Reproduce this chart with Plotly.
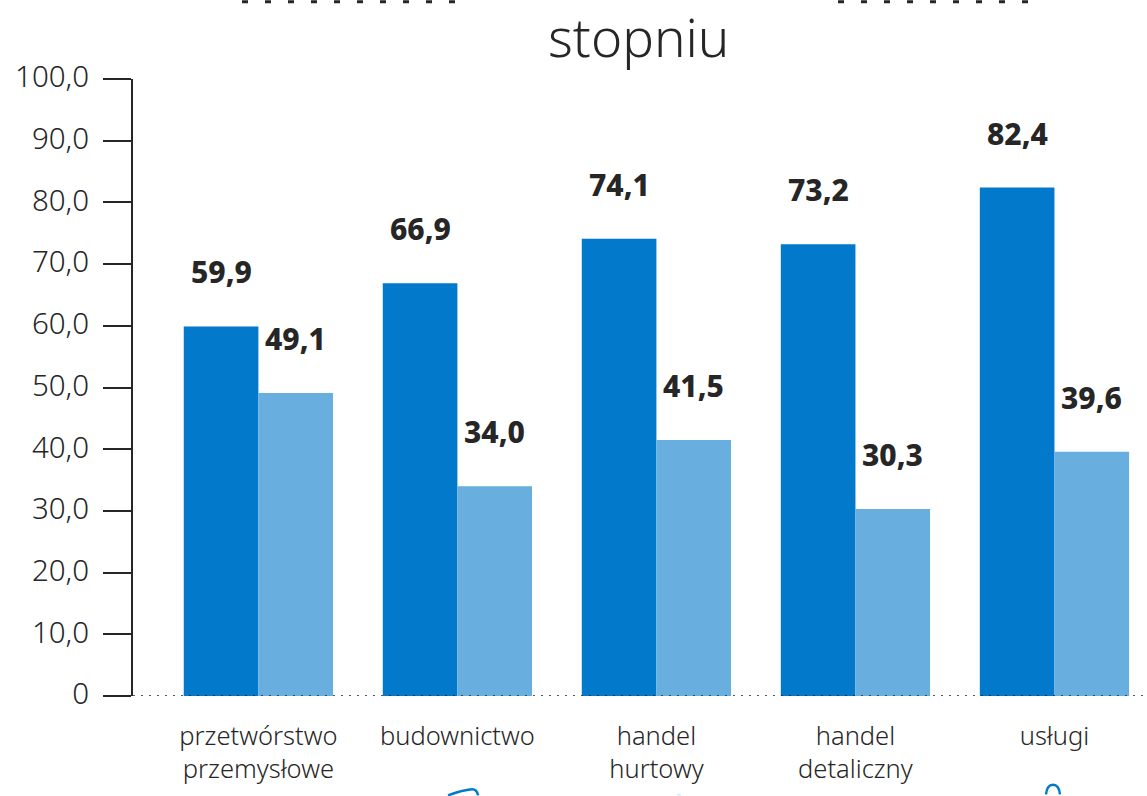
import plotly.graph_objects as go

categories = ["przetwórstwo<br>przemysłowe", "budownictwo", "handel<br>hurtowy", "handel<br>detaliczny", "usługi"]
dark_values = [59.9, 66.9, 74.1, 73.2, 82.4]
light_values = [49.1, 34.0, 41.5, 30.3, 39.6]
y_tick_values = [0, 10, 20, 30, 40, 50, 60, 70, 80, 90, 100]
y_tick_labels = ["0", "10,0", "20,0", "30,0", "40,0", "50,0", "60,0", "70,0", "80,0", "90,0", "100,0"]

W, H = 1147, 796
L, T, B = 133, 78.5, 696.5
INK = "#262626"
BLUE = "#0279ca"
FONT = "Noto Sans"

def px(x):
    return (x - L) / (W - L)

def py(y):
    return (B - y) / (B - T)

fig = go.Figure()
fig.add_bar(x=categories, y=dark_values, marker=dict(color=BLUE, line_width=0), showlegend=False)
fig.add_bar(x=categories, y=light_values, marker=dict(color="#68afe0", line_width=0), showlegend=False)

annotations = []
for cat, d, l in zip(categories, dark_values, light_values):
    for v, shift in ((d, -36.5), (l, 37)):
        annotations.append(dict(x=cat, y=v, xref="x", yref="y", text=f"{v:.1f}".replace(".", ","),
                                showarrow=False, xshift=shift, yshift=54.5,
                                font=dict(family=FONT, size=30, color=INK, weight=800)))
annotations.append(dict(x=px(638), y=py(36), xref="paper", yref="paper", text="stopniu", showarrow=False,
                        xanchor="center", yanchor="middle",
                        font=dict(family=FONT, size=53, color=INK, weight=300)))

def paper_line(x0, x1, ypx, **line):
    return dict(type="line", xref="paper", yref="paper", x0=px(x0), x1=px(x1),
                y0=py(ypx), y1=py(ypx), line=line)

def paper_curve(points, color, width):
    (a, b), (c, d), (e, f) = points
    path = f"M {px(a)} {py(b)} Q {px(c)} {py(d)} {px(e)} {py(f)}"
    return dict(type="path", xref="paper", yref="paper", path=path, line=dict(color=color, width=width))

shapes = [
    dict(type="line", xref="x domain", yref="y", x0=0, x1=1, y0=0, y1=0, layer="above",
         line=dict(color=INK, width=1.5, dash="2px 6px")),
    paper_line(242, 456, 1, color=INK, width=3, dash="6px 17px"),
    paper_line(838, 1030, 1, color=INK, width=3, dash="6px 17px"),
    paper_curve([(448, 796), (462, 791), (472, 790)], BLUE, 2.5),
    paper_curve([(472, 790), (477, 790), (478, 796)], BLUE, 2.5),
    paper_curve([(1046, 795), (1047, 785.5), (1053, 785.5)], BLUE, 2.5),
    paper_curve([(1053, 785.5), (1059, 785.5), (1060, 795)], BLUE, 2.5),
    paper_line(677, 681, 795.5, color="#c5dff2", width=1),
]

fig.update_layout(
    width=W, height=H, autosize=False,
    margin=dict(l=L, r=0, t=T, b=H - B),
    paper_bgcolor="white", plot_bgcolor="white",
    barmode="group", bargap=0.25, bargroupgap=0,
    annotations=annotations, shapes=shapes,
    font=dict(family=FONT, color=INK),
)
fig.update_xaxes(range=[-0.63, 4.465], showgrid=False, zeroline=False, showline=False, ticks="",
                 tickangle=0, tickfont=dict(family=FONT, size=25.5, color=INK, weight=300),
                 ticklabelstandoff=22)
fig.update_yaxes(range=[0, 100], tickvals=y_tick_values, ticktext=y_tick_labels, showgrid=False, zeroline=False,
                 showline=True, linecolor=INK, linewidth=2, ticks="outside", ticklen=28, tickwidth=2,
                 tickcolor=INK, ticklabelstandoff=8, ticklabelshift=-2,
                 tickfont=dict(family=FONT, size=29.5, color=INK, weight=300))
fig.write_html("out.html", config={"displayModeBar": False},
               post_script="document.body.style.margin='0';document.body.style.overflow='hidden';")
